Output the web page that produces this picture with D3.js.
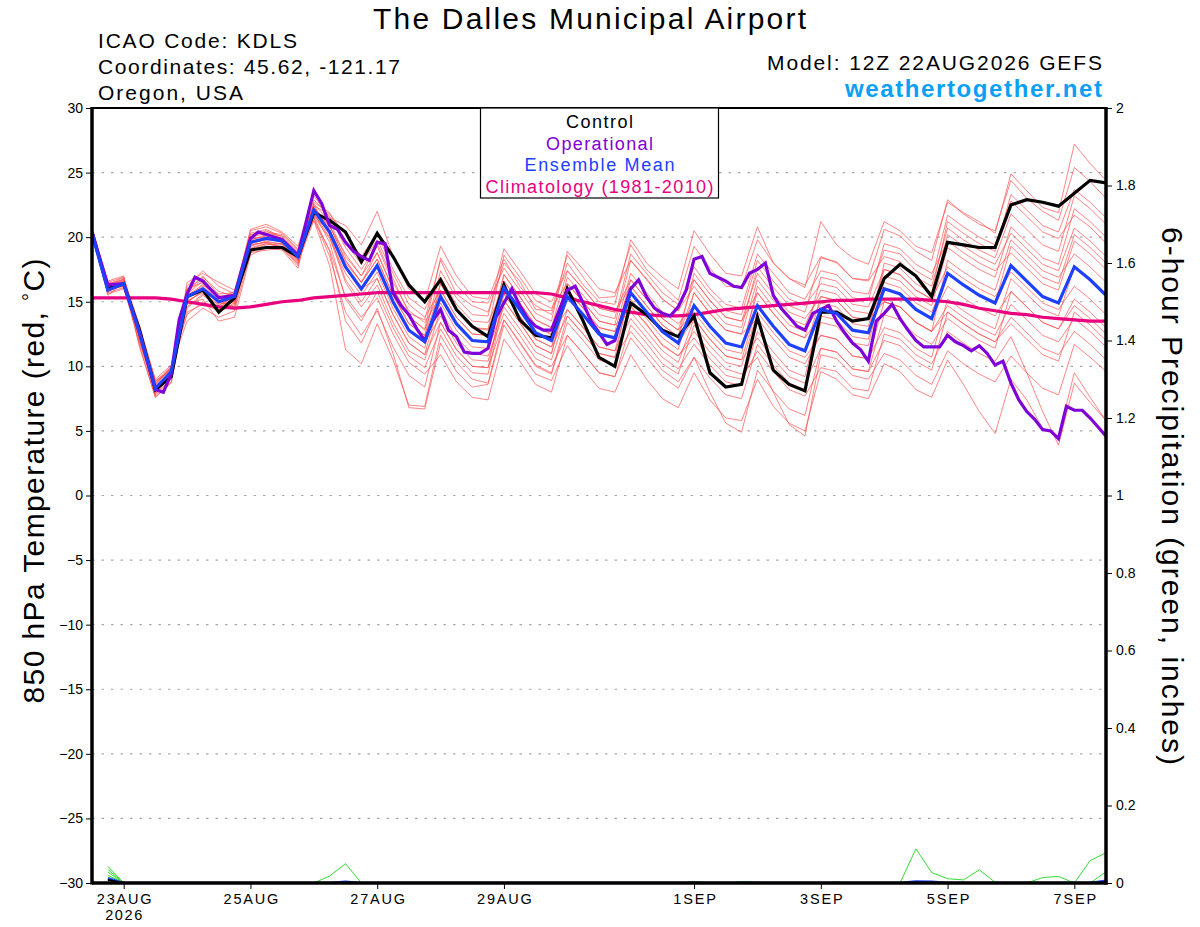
<!DOCTYPE html>
<html><head><meta charset="utf-8">
<script src="https://cdn.jsdelivr.net/npm/d3@7"></script>
<style>body{margin:0;background:#fff} text{font-family:"Liberation Sans",Arial,Helvetica,sans-serif}</style>
</head><body><svg id="c" width="1200" height="927"></svg>
<script>
// ---------- DATA ----------
const runStartUTC = Date.UTC(2026, 7, 22, 12); // 12Z 22AUG2026
const stepHours = 6;
const tempTicks = [-30,-25,-20,-15,-10,-5,0,5,10,15,20,25,30];
const precipTicks = [0,0.2,0.4,0.6,0.8,1,1.2,1.4,1.6,1.8,2];
const dateTicks = ["2026-08-23","2026-08-25","2026-08-27","2026-08-29","2026-09-01","2026-09-03","2026-09-05","2026-09-07"];
const dateTickLabels = ["23AUG","25AUG","27AUG","29AUG","1SEP","3SEP","5SEP","7SEP"];

const control = [20.4,16.0,16.4,12.8,8.2,9.2,15.4,15.9,14.2,15.3,19.0,19.2,19.2,18.5,21.9,21.3,20.4,18.1,20.3,18.5,16.3,15.0,16.7,14.4,13.1,12.3,16.3,13.6,12.4,12.2,16.0,13.5,10.7,10.0,14.9,14.0,12.8,12.3,13.9,9.5,8.4,8.6,13.8,9.7,8.6,8.1,14.2,14.2,13.5,13.7,16.8,17.9,17.0,15.4,19.6,19.4,19.2,19.2,22.5,22.9,22.7,22.4,23.4,24.4,24.2];
const ensMean = [20.3,15.9,16.4,12.6,8.3,9.6,15.4,16.0,15.0,15.4,19.6,19.9,19.7,18.5,22.1,20.4,17.7,16.0,17.8,15.0,12.8,11.9,15.4,13.3,12.0,11.9,16.1,14.4,12.6,12.0,15.4,14.0,12.5,12.2,15.7,14.2,12.7,11.8,14.7,13.1,11.8,11.5,14.7,13.1,11.7,11.2,14.4,14.1,12.8,12.6,16.0,15.6,14.4,13.7,17.2,16.3,15.5,14.9,17.8,16.6,15.4,14.9,17.7,16.7,15.5];
const climatology = [15.3,15.3,15.3,15.3,15.3,15.2,15.0,14.8,14.6,14.5,14.6,14.8,15.0,15.1,15.3,15.4,15.5,15.6,15.7,15.7,15.7,15.7,15.7,15.7,15.7,15.7,15.7,15.7,15.7,15.6,15.3,15.0,14.7,14.4,14.2,14.0,13.9,13.9,14.0,14.2,14.4,14.5,14.6,14.7,14.8,14.9,15.0,15.1,15.1,15.2,15.2,15.2,15.2,15.1,15.0,14.8,14.5,14.3,14.1,14.0,13.8,13.7,13.6,13.5,13.5];
// operational run: forecast step (in 6-h units) and value
const operationalSteps = [0,1,2,3,4,4.5,5,5.5,6,6.5,7,8,9,10,10.5,11,12,13,14,14.5,15,15.5,16,16.5,17,17.5,18,18.5,19,19.5,20,20.5,21,21.5,22,22.5,23,23.5,24,24.5,25,25.5,26,26.5,27,27.5,28,28.5,29,29.5,30,30.5,31,31.5,32,32.5,33,33.5,34,34.5,35,35.5,36,36.5,37,37.5,38,38.5,39,39.5,40,40.5,41,41.5,42,42.5,43,43.5,44,44.5,45,45.5,46,46.5,47,47.5,48,48.5,49,49.5,50,50.5,51,51.5,52,52.5,53,53.5,54,54.5,55,55.5,56,56.5,57,57.5,58,58.5,59,59.5,60,60.5,61,61.5,62,62.5,63,63.5,64];
const operational = [20.4,16.3,16.4,12.6,8.2,8.0,9.4,13.6,15.6,16.9,16.6,15.3,15.5,19.9,20.4,20.2,19.8,18.6,23.6,22.6,20.9,20.6,19.6,18.9,18.5,18.2,19.6,19.5,15.7,14.7,14.0,12.9,12.0,13.5,14.4,12.8,12.3,11.1,11.0,11.0,11.4,13.8,14.9,16.0,14.7,13.7,13.1,12.8,12.8,14.4,15.9,16.2,14.9,13.5,12.6,11.7,12.0,14.1,16.0,16.7,15.4,14.5,14.1,13.9,14.6,15.9,18.3,18.5,17.2,16.9,16.6,16.2,16.1,17.2,17.5,18.0,15.5,14.5,13.8,13.1,12.8,14.1,14.4,14.7,13.5,12.6,11.8,11.3,10.4,13.5,14.1,14.8,13.7,12.8,12.0,11.5,11.5,11.5,12.4,11.9,11.6,11.2,11.6,11.0,10.1,10.4,8.7,7.4,6.5,5.9,5.1,5.0,4.4,6.9,6.6,6.6,6.0,5.3,4.6];

const member01 = [20.5,16.2,16.8,12.0,8.0,9.2,15.8,17.0,15.5,15.0,20.3,20.6,20.0,18.8,22.6,21.2,18.5,17.0,19.5,16.8,14.1,13.6,18.2,15.6,14.7,14.2,18.0,16.6,14.4,14.3,18.6,16.9,15.3,15.4,19.4,17.5,16.3,15.1,19.3,17.6,16.2,16.1,19.8,18.0,16.8,16.1,21.2,19.4,18.4,17.9,21.2,20.5,19.3,18.8,22.7,21.9,21.2,20.3,24.9,23.6,22.3,21.9,27.2,25.7,24.4];
const member02 = [20.4,15.5,16.5,13.0,8.8,9.8,14.5,15.5,14.6,15.2,19.0,19.4,19.5,18.2,21.6,18.9,13.5,11.8,14.5,11.0,6.8,6.7,11.8,9.6,8.4,8.6,13.2,11.2,9.4,8.9,11.6,9.8,8.3,8.0,10.9,9.0,7.5,6.8,9.5,7.4,6.0,5.8,9.0,6.9,5.6,5.0,9.6,9.0,7.8,7.5,10.2,9.6,8.2,7.6,10.5,8.6,6.5,4.8,9.0,7.4,5.2,4.6,9.5,7.6,5.8];
const member03 = [20.5,16.0,16.2,12.5,7.8,9.5,16.2,17.4,16.2,15.6,20.6,21.0,20.4,19.3,23.2,21.5,20.9,19.4,22.0,18.5,16.0,15.0,19.3,17.0,15.4,15.2,18.3,16.2,14.7,14.0,18.0,16.3,15.0,14.8,19.8,18.0,16.9,16.0,20.5,18.7,17.2,17.0,20.8,18.0,16.8,16.3,18.5,18.0,16.8,16.7,20.6,20.1,18.9,18.2,22.9,21.8,21.0,20.5,24.4,23.0,22.0,21.3,25.4,24.3,23.0];
const member04 = [20.3,16.5,16.9,11.5,7.6,8.8,15.0,15.8,14.2,14.8,19.4,19.6,19.2,18.0,21.3,17.8,11.3,10.2,13.3,10.5,7.0,6.9,12.4,10.3,9.0,8.7,13.6,11.8,10.0,9.4,13.4,12.0,10.5,10.1,14.6,13.3,11.6,10.8,12.7,11.1,9.8,9.4,10.7,8.0,5.5,4.6,10.9,10.6,9.3,9.0,11.0,10.5,9.3,8.6,11.2,10.2,9.4,8.8,10.8,9.5,8.3,7.8,11.7,10.7,9.6];
const member05 = [20.4,15.8,16.3,12.8,8.6,10.0,13.5,14.5,13.8,14.3,18.8,19.0,19.1,17.8,22.3,20.6,18.0,16.5,18.8,16.0,13.9,12.8,16.4,14.4,13.0,12.8,16.6,14.9,13.2,12.4,16.4,15.0,13.5,13.2,18.2,16.8,15.2,14.3,17.7,16.0,14.8,14.5,18.7,17.2,15.7,15.2,17.4,17.1,15.8,15.6,19.0,18.7,17.4,16.7,21.7,20.8,20.0,19.4,22.8,21.6,20.4,19.9,21.7,20.8,19.5];
const member06 = [20.5,16.3,16.6,12.2,8.2,9.6,15.6,16.6,15.2,15.8,19.8,20.2,19.9,18.6,21.8,20.0,16.5,14.6,16.3,13.4,11.2,10.5,14.4,12.2,11.0,10.8,14.1,12.4,10.6,10.0,12.4,11.0,9.5,9.2,13.2,11.8,10.2,9.4,13.2,11.6,10.3,10.0,14.2,12.6,11.2,10.7,12.4,12.1,10.8,10.6,13.0,12.6,11.4,10.7,15.2,14.3,13.5,12.9,16.8,15.6,14.4,13.9,17.7,16.7,15.5];
const member07 = [20.3,16.0,16.8,13.2,8.9,9.7,14.8,15.2,13.5,13.8,18.6,19.2,19.0,17.6,22.7,21.9,19.6,17.9,19.8,17.2,14.8,13.8,15.9,13.8,12.5,12.4,15.6,13.9,12.1,11.5,15.4,14.0,12.5,12.2,16.7,15.2,13.7,12.8,16.7,15.1,13.8,13.5,17.2,15.6,14.2,13.7,15.4,15.1,13.8,13.6,15.0,14.6,13.4,12.7,14.2,13.3,12.5,11.9,13.8,12.6,11.4,10.9,12.7,11.7,10.5];
const member08 = [20.5,16.6,17.0,12.4,7.9,9.0,16.5,17.2,16.5,15.9,20.2,20.4,20.2,19.0,21.3,19.0,15.4,13.8,15.3,12.5,10.3,9.4,10.9,8.8,7.6,7.4,12.1,10.4,8.6,8.0,12.4,11.0,9.5,9.2,12.2,10.7,9.2,8.3,10.7,9.1,7.8,7.5,11.7,10.1,8.7,8.2,13.4,13.1,11.8,11.6,17.0,16.6,15.4,14.7,19.2,18.3,17.5,16.9,20.8,19.6,18.4,17.9,22.2,21.2,20.0];
const member09 = [20.4,15.7,16.1,11.8,8.4,9.4,15.2,16.4,15.0,15.0,19.9,20.0,19.6,18.4,22.3,20.9,18.2,16.5,18.3,15.5,13.3,12.4,17.4,15.3,14.0,13.9,19.1,17.4,15.6,15.0,17.4,16.0,14.5,14.2,16.2,14.7,13.2,12.3,15.7,14.1,12.8,12.5,13.7,12.1,10.7,10.2,12.4,12.1,10.8,10.6,15.0,14.6,13.4,12.7,18.2,17.3,16.5,15.9,19.8,18.6,17.4,16.9,18.7,17.7,16.5];
const member10 = [20.3,16.1,16.4,12.9,9.0,10.1,14.0,15.0,14.4,14.6,19.2,19.5,19.3,18.1,22.0,20.2,16.7,15.0,16.8,14.0,11.8,10.9,15.4,13.3,12.0,11.9,17.1,15.4,13.6,13.0,15.9,14.5,13.0,12.7,14.7,13.2,11.7,10.8,12.2,10.6,9.3,9.0,11.2,9.6,8.2,7.7,9.9,9.6,8.3,8.1,12.5,12.1,10.9,10.2,12.7,11.8,11.0,10.4,12.3,9.5,6.5,3.9,8.7,7.2,5.8];
const member11 = [20.5,16.4,16.7,12.0,7.7,9.1,15.9,16.9,15.8,15.4,20.5,20.8,20.3,19.1,22.5,20.4,17.6,15.8,17.9,15.0,12.7,11.8,13.9,11.8,10.5,10.4,15.1,13.4,11.6,11.0,15.9,14.5,13.0,12.7,17.2,15.7,14.2,13.3,14.7,13.1,11.8,11.5,15.7,14.1,12.7,12.2,16.9,16.6,15.3,15.1,19.5,19.1,17.9,17.2,19.7,18.8,18.0,17.4,18.8,17.6,16.4,15.9,19.7,18.7,17.5];
const member12 = [20.4,15.9,16.2,13.1,8.5,9.9,14.6,15.6,14.8,15.0,19.3,19.7,19.4,18.2,21.5,18.5,14.2,12.4,14.3,11.5,9.3,8.4,13.4,11.3,10.0,9.9,15.6,13.9,12.1,11.5,13.9,12.5,11.0,10.7,12.7,11.2,9.7,8.8,10.7,8.0,5.6,4.9,9.7,8.1,6.7,6.2,11.4,11.1,9.8,9.6,14.0,13.6,12.4,11.7,13.7,12.8,12.0,11.4,15.8,14.6,13.4,12.9,14.7,13.7,12.5];
const member13 = [20.3,16.2,16.5,12.6,8.1,9.3,15.5,16.3,15.4,15.6,19.7,19.9,19.6,18.5,22.2,20.8,18.7,17.0,18.8,16.0,13.8,12.9,18.4,16.3,15.0,14.9,17.6,15.9,14.1,13.5,18.9,17.5,16.0,15.7,18.2,16.7,15.2,14.3,16.2,14.6,13.3,13.0,17.7,16.1,14.7,14.2,18.4,18.1,16.8,16.6,18.5,18.1,16.9,16.2,20.7,19.8,19.0,18.4,21.8,20.6,19.4,18.9,23.2,22.2,21.0];
const member14 = [20.5,15.6,16.0,12.3,8.7,9.8,14.9,15.9,14.9,14.9,19.5,19.8,19.7,18.3,21.7,20.4,17.7,16.0,17.8,15.0,12.8,11.9,14.9,12.8,11.5,11.4,14.6,12.9,11.1,10.5,14.4,13.0,11.5,11.2,15.7,14.2,12.7,11.8,13.7,12.1,10.8,10.5,14.7,13.1,11.7,11.2,15.4,15.1,13.8,13.6,16.0,15.6,14.4,13.7,16.2,15.3,14.5,13.9,15.8,14.6,13.4,12.9,15.2,14.2,13.0];
const member15 = [20.4,16.3,16.9,12.7,8.3,9.5,16.0,16.5,15.6,15.7,20.0,20.3,20.1,18.9,22.9,21.6,19.2,17.5,19.3,16.5,14.3,13.4,15.4,13.3,12.0,11.9,16.6,14.9,13.1,12.5,14.4,13.0,11.5,11.2,13.7,12.2,10.7,9.8,11.7,10.1,8.8,8.5,12.7,11.1,9.7,9.2,14.4,14.1,12.8,12.6,18.0,17.6,16.4,15.7,21.2,20.3,19.5,18.9,23.3,22.1,20.9,20.4,23.7,22.7,21.5];
const member16 = [20.3,15.8,16.4,11.6,7.6,8.7,15.3,16.2,15.0,14.6,19.6,19.9,19.8,18.4,21.9,19.6,15.2,13.5,15.8,13.0,10.8,9.9,12.9,10.8,9.5,9.4,15.1,13.4,11.6,11.0,15.4,14.0,12.5,12.2,15.2,13.7,12.2,11.3,15.7,14.1,12.8,12.5,16.7,15.1,13.7,13.2,15.9,15.6,14.3,14.1,15.0,14.6,13.4,12.7,14.7,13.8,13.0,12.4,14.8,13.6,12.4,11.9,13.7,12.7,11.5];
const member17 = [20.5,16.0,16.6,12.5,8.6,9.9,14.2,14.8,14.3,14.9,19.1,19.5,19.2,17.9,22.4,21.8,20.2,18.5,20.3,17.5,15.3,14.4,16.9,14.8,13.5,13.4,16.1,14.4,12.6,12.0,16.9,15.5,14.0,13.7,18.7,17.2,15.7,14.8,16.7,15.1,13.8,13.5,15.7,14.1,12.7,12.2,13.9,13.6,12.3,12.1,16.5,16.1,14.9,14.2,17.2,16.3,15.5,14.9,19.3,18.1,16.9,16.4,20.2,19.2,18.0];
const member18 = [20.4,16.5,16.3,13.0,8.2,9.2,15.7,16.8,15.3,15.3,20.0,20.5,19.9,18.7,21.6,19.9,17.2,15.5,17.3,14.5,12.3,11.4,16.4,14.3,13.0,12.9,18.6,16.9,15.1,14.5,16.4,15.0,13.5,13.2,14.2,12.7,11.2,10.3,13.7,12.1,10.8,10.5,12.2,10.6,9.2,8.7,11.4,11.1,9.8,9.6,12.0,11.6,10.4,9.7,14.2,13.3,12.5,11.9,13.3,12.1,10.9,10.4,14.2,13.2,12.0];
const member19 = [20.3,15.9,16.7,12.1,8.0,9.6,15.1,15.7,14.7,15.5,19.4,19.6,19.5,18.2,22.1,20.4,17.7,16.0,16.8,14.0,11.8,10.9,13.4,11.3,10.0,9.9,13.6,11.9,10.1,9.5,13.9,12.5,11.0,10.7,16.2,14.7,13.2,12.3,17.2,15.6,14.3,14.0,18.2,16.6,15.2,14.7,16.4,16.1,14.8,14.6,17.5,17.1,15.9,15.2,17.7,16.8,16.0,15.4,17.3,16.1,14.9,14.4,16.2,15.2,14.0];
const member20 = [20.5,16.1,16.2,12.8,8.8,10.0,15.4,16.0,15.1,15.1,19.8,20.1,19.8,18.6,22.3,20.9,18.2,16.5,18.3,15.5,13.3,12.4,15.9,13.8,12.5,12.4,17.1,15.4,13.6,13.0,17.4,16.0,14.5,14.2,16.7,15.2,13.7,12.8,14.2,12.6,11.3,11.0,16.2,14.6,13.2,12.7,14.9,14.6,13.3,13.1,17.5,17.1,15.9,15.2,20.2,19.3,18.5,17.9,20.3,19.1,17.9,17.4,20.7,19.7,18.5];
const members = [member01,member02,member03,member04,member05,member06,member07,member08,member09,member10,member11,member12,member13,member14,member15,member16,member17,member18,member19,member20];

// 6-hour precipitation (inches), steps 1..64 (hours 6..384)
const precip01 = [.043,0,0,0,0,0,0,0, 0,0,0,0,0,0,0,0, 0,0,0,0,0,0,0,0, 0,0,0,0,0,0,0,0, 0,0,0,0,0,.004,0,0, .004,.002,0,0,0,0,0,0, 0,0,0,.088,.027,.011,.008,.034, .002,0,0,.014,.017,0,.058,.078];
const precip02 = [.035,0,0,0,0,0,0,0, 0,0,0,0,0,0,.018,.05, 0,0,0,0,0,0,0,0, 0,0,0,0,0,0,0,0, 0,0,0,0,0,0,0,0, 0,0,0,0,0,0,0,0, 0,0,0,0,0,0,0,0, 0,0,0,0,0,0,0,0];
const precip03 = [.028,0,0,0,0,0,0,0, 0,0,0,0,0,0,0,.004, 0,0,0,0,0,0,0,0, 0,0,0,0,0,0,0,0, 0,0,0,0,0,0,0,0, 0,0,0,0,0,0,0,0, 0,0,0,0,0,0,0,0, 0,0,0,0,0,0,0,.029];
const precip04 = [.02,0,0,0,0,0,0,0, 0,0,0,0,0,0,0,0, 0,0,0,0,0,0,0,0, 0,0,0,0,0,0,0,0, 0,0,0,0,0,0,0,0, 0,0,0,0,0,0,0,0, 0,0,0,.004,0,0,0,0, 0,0,0,0,0,0,0,0];
const precip05 = [.015,0,0,0,0,0,0,0, 0,0,0,0,0,0,0,0, 0,0,0,0,0,0,0,0, 0,0,0,0,0,0,0,0, 0,0,0,0,0,0,0,0, 0,0,0,0,0,0,.003,0, 0,0,0,0,0,0,0,0, 0,0,0,0,0,0,0,0];
const precip06 = [.01,0,0,0,0,0,0,0, 0,0,0,0,0,0,0,0, 0,0,0,0,0,0,0,0, 0,0,0,0,0,0,0,0, 0,0,0,0,0,0,0,0, 0,0,0,0,0,0,0,0, 0,0,0,0,0,0,0,0, 0,0,0,0,0,0,0,0];
const precipMembers = [precip01,precip02,precip03,precip04,precip05,precip06];
const precipMean = [.012,0,0,0,0,0,0,0, 0,0,0,0,0,0,0,.003, 0,0,0,0,0,0,0,0, 0,0,0,0,0,0,0,0, 0,0,0,0,0,0,0,0, 0,0,0,0,0,0,0,0, 0,0,0,.004,.003,0,0,0, 0,0,0,0,0,0,0,.006];
const precipControl = [.008,0,0,0,0,0,0,0, 0,0,0,0,0,0,0,0, 0,0,0,0,0,0,0,0, 0,0,0,0,0,0,0,0, 0,0,0,0,0,0,0,0, 0,0,0,0,0,0,0,0, 0,0,0,0,0,0,0,0, 0,0,0,0,0,0,0,0];

// ---------- CHART ----------
const L = 92, R = 1106, T = 108, B = 883;
const svg = d3.select("#c");
const H6 = 3600e3 * stepHours;
const timeAt = s => new Date(runStartUTC + s * H6);
const x = d3.scaleUtc().domain([timeAt(0), timeAt(64)]).range([L, R]);
const yT = d3.scaleLinear().domain([-30, 30]).range([B, T]);
const yP = d3.scaleLinear().domain([0, 2]).range([B, T]);
// widen text to mimic the original's wide Helvetica rendering
const widen = (sel, f) => sel.each(function () {
  const w = this.getComputedTextLength();
  d3.select(this).attr("textLength", w * f).attr("lengthAdjust", "spacing");
});

// grid
svg.append("g").selectAll("line").data(tempTicks.filter(v => v > -30 && v < 30)).join("line")
  .attr("x1", L).attr("x2", R).attr("y1", d => yT(d)).attr("y2", d => yT(d))
  .attr("stroke", "#a8a8a8").attr("stroke-width", 1.2).attr("stroke-dasharray", "2.5,7");

svg.append("clipPath").attr("id", "pc").append("rect")
  .attr("x", L).attr("y", T).attr("width", R - L).attr("height", B - T);
const plot = svg.append("g").attr("clip-path", "url(#pc)");

const tLine = d3.line().x((d, i) => x(timeAt(i))).y(d => yT(d));
members.forEach(m => plot.append("path").datum(m).attr("d", tLine)
  .attr("fill", "none").attr("stroke", "#ff4a4a").attr("stroke-opacity", 0.75).attr("stroke-width", 0.9));

const pLine = d3.line().x((d, i) => x(timeAt(i + 1))).y(d => yP(d));
precipMembers.forEach(m => plot.append("path").datum(m).attr("d", pLine)
  .attr("fill", "none").attr("stroke", "#33dd33").attr("stroke-width", 1));
plot.append("path").datum(precipMean).attr("d", pLine).attr("fill", "none").attr("stroke", "#2040ff").attr("stroke-width", 2.5);
plot.append("path").datum(precipControl).attr("d", pLine).attr("fill", "none").attr("stroke", "#000").attr("stroke-width", 2);

plot.append("path").datum(climatology).attr("d", tLine).attr("fill", "none").attr("stroke", "#e8007f").attr("stroke-width", 3.2);
plot.append("path").datum(control).attr("d", tLine).attr("fill", "none").attr("stroke", "#000").attr("stroke-width", 3.2);
const opLine = d3.line().x((d, i) => x(timeAt(operationalSteps[i]))).y(d => yT(d));
plot.append("path").datum(operational).attr("d", opLine).attr("fill", "none").attr("stroke", "#8000d8").attr("stroke-width", 3.2);
plot.append("path").datum(ensMean).attr("d", tLine).attr("fill", "none").attr("stroke", "#2040ff").attr("stroke-width", 3.2);

// axes
const axL = svg.append("g").attr("transform", `translate(${L},0)`)
  .call(d3.axisLeft(yT).tickValues(tempTicks).tickSize(6).tickPadding(3));
const axR = svg.append("g").attr("transform", `translate(${R},0)`)
  .call(d3.axisRight(yP).tickValues(precipTicks).tickSize(6).tickPadding(4).tickFormat(d => d3.format("~g")(d)));
const axB = svg.append("g").attr("transform", `translate(0,${B})`)
  .call(d3.axisBottom(x).tickValues(dateTicks.map(s => new Date(s + "T00:00:00Z"))).tickSize(6).tickPadding(5)
    .tickFormat((d, i) => dateTickLabels[i]));
[axL, axR, axB].forEach(a => {
  a.select(".domain").remove();
  a.selectAll("text").attr("font-size", 14).attr("fill", "#000").style("font-family", '"Liberation Sans",Arial,sans-serif');
  a.selectAll("line").attr("stroke", "#000").attr("stroke-width", 1);
});
axB.selectAll(".tick text").attr("font-size", 14.5);
axB.append("text").attr("class", "yr").attr("x", x(new Date(dateTicks[0] + "T00:00:00Z"))).attr("y", 37).attr("text-anchor", "middle")
  .attr("font-size", 14.5).attr("fill", "#000").text("2026");
widen(axB.selectAll("text"), 1.15);

// frame
svg.append("line").attr("x1", L).attr("x2", R).attr("y1", T).attr("y2", T).attr("stroke", "#000").attr("stroke-width", 2);
svg.append("line").attr("x1", L).attr("x2", R + 1.5).attr("y1", B).attr("y2", B).attr("stroke", "#000").attr("stroke-width", 3.5);
svg.append("line").attr("x1", L).attr("x2", L).attr("y1", T - 1).attr("y2", B + 1.5).attr("stroke", "#000").attr("stroke-width", 3.5);
svg.append("line").attr("x1", R).attr("x2", R).attr("y1", T - 1).attr("y2", B + 1.5).attr("stroke", "#000").attr("stroke-width", 3.5);

// titles
svg.append("text").attr("x", 589.5).attr("y", 29).attr("text-anchor", "middle").attr("font-size", 30)
  .attr("textLength", 433).attr("lengthAdjust", "spacing").text("The Dalles Municipal Airport");
const info = ["ICAO Code: KDLS", "Coordinates: 45.62, -121.17", "Oregon, USA"];
const infoWidths = [199, 302, 145];
info.forEach((t, i) => svg.append("text").attr("x", 98).attr("y", 48 + i * 26).attr("font-size", 21)
  .attr("textLength", infoWidths[i]).attr("lengthAdjust", "spacing").text(t));
svg.append("text").attr("x", 1102).attr("y", 70).attr("text-anchor", "end").attr("font-size", 21)
  .attr("textLength", 335).attr("lengthAdjust", "spacing").text("Model: 12Z 22AUG2026 GEFS");
svg.append("text").attr("x", 1102).attr("y", 97).attr("text-anchor", "end").attr("font-size", 24).attr("font-weight", "bold")
  .attr("fill", "#0aa0f5").attr("textLength", 257).attr("lengthAdjust", "spacing").text("weathertogether.net");

// legend
const legend = [["Control", "#000", 67], ["Operational", "#8000d8", 107], ["Ensemble Mean", "#2040ff", 150], ["Climatology (1981-2010)", "#e8007f", 228]];
svg.append("rect").attr("x", 480.5).attr("y", 108).attr("width", 238).attr("height", 90).attr("fill", "#fff").attr("stroke", "#000").attr("stroke-width", 1.2);
legend.forEach((d, i) => svg.append("text").attr("x", 599.5).attr("y", 128 + i * 21.5).attr("text-anchor", "middle")
  .attr("font-size", 18).attr("fill", d[1]).attr("textLength", d[2]).attr("lengthAdjust", "spacing").text(d[0]));

// axis titles
svg.append("text").attr("transform", "translate(44,481) rotate(-90)").attr("text-anchor", "middle").attr("font-size", 30)
  .attr("textLength", 445).attr("lengthAdjust", "spacing")
  .html('850 hPa Temperature (red, <tspan font-size="20" dy="-7">°</tspan><tspan dy="7">C)</tspan>');
svg.append("text").attr("transform", "translate(1162,496) rotate(90)").attr("text-anchor", "middle").attr("font-size", 30)
  .attr("textLength", 538).attr("lengthAdjust", "spacing")
  .text("6-hour Precipitation (green, inches)");
</script></body></html>
